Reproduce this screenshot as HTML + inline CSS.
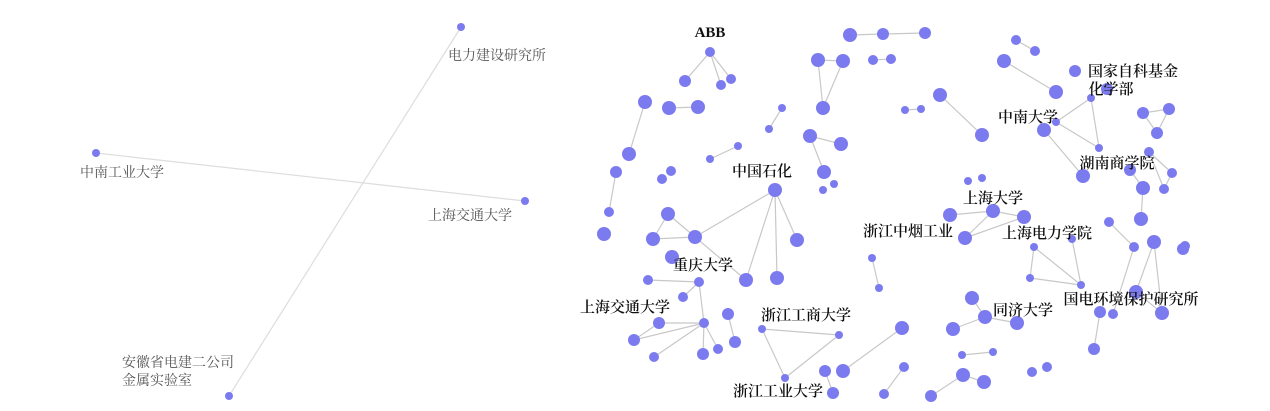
<!DOCTYPE html>
<html><head><meta charset="utf-8"><style>
html,body{margin:0;padding:0;background:#fff;}
svg{display:block}
.e{stroke:#c8c8c8;stroke-width:1.2}
circle{fill:#7b7bef}
.l{font-family:"Liberation Serif","Noto Serif CJK SC",serif;font-size:15px;font-weight:600;fill:#111;text-anchor:middle}
.g{font-family:"Liberation Serif","Noto Serif CJK SC",serif;font-size:14px;fill:#555}
</style></head><body>
<svg width="1270" height="411" viewBox="0 0 1270 411" xmlns="http://www.w3.org/2000/svg">
<line class="e" x1="96" y1="153" x2="525" y2="201" style="stroke:#ddd"/>
<line class="e" x1="461" y1="27" x2="229" y2="396" style="stroke:#ddd"/>
<circle cx="96" cy="153" r="4"/><circle cx="525" cy="201" r="4"/><circle cx="461" cy="27" r="4"/><circle cx="229" cy="396" r="4"/>
<text class="g" x="448" y="60">电力建设研究所</text>
<text class="g" x="80" y="177">中南工业大学</text>
<text class="g" x="428" y="220">上海交通大学</text>
<text class="g" x="122" y="367">安徽省电建二公司</text>
<text class="g" x="122" y="385">金属实验室</text>
<g class="e">
<line x1="710" y1="52" x2="685" y2="81"/><line x1="710" y1="52" x2="721" y2="85"/><line x1="710" y1="52" x2="731" y2="79"/>
<line x1="645" y1="102" x2="629" y2="154"/><line x1="669" y1="108" x2="698" y2="107"/>
<line x1="782" y1="108" x2="769" y2="129"/><line x1="738" y1="146" x2="710" y2="159"/>
<line x1="616" y1="172" x2="609" y2="212"/>
<line x1="850" y1="35" x2="883" y2="34"/><line x1="883" y1="34" x2="925" y2="33"/>
<line x1="818" y1="60" x2="843" y2="61"/><line x1="818" y1="60" x2="823" y2="108"/><line x1="843" y1="61" x2="823" y2="108"/>
<line x1="873" y1="60" x2="891" y2="59"/>
<line x1="810" y1="136" x2="841" y2="144"/><line x1="810" y1="136" x2="824" y2="172"/>
<line x1="775" y1="190" x2="695" y2="237"/><line x1="775" y1="190" x2="746" y2="280"/><line x1="775" y1="190" x2="777" y2="278"/><line x1="775" y1="190" x2="797" y2="240"/>
<line x1="668" y1="214" x2="653" y2="239"/><line x1="668" y1="214" x2="695" y2="237"/><line x1="653" y1="239" x2="695" y2="237"/><line x1="695" y1="237" x2="746" y2="280"/>
<line x1="648" y1="280" x2="699" y2="282"/><line x1="699" y1="282" x2="683" y2="297"/><line x1="699" y1="282" x2="704" y2="323"/>
<line x1="704" y1="323" x2="659" y2="323"/><line x1="704" y1="323" x2="634" y2="340"/><line x1="704" y1="323" x2="654" y2="357"/><line x1="704" y1="323" x2="703" y2="354"/><line x1="704" y1="323" x2="718" y2="349"/><line x1="634" y1="340" x2="659" y2="323"/>
<line x1="728" y1="314" x2="735" y2="342"/>
<line x1="762" y1="329" x2="839" y2="335"/><line x1="839" y1="335" x2="785" y2="378"/><line x1="785" y1="378" x2="762" y2="329"/>
<line x1="843" y1="371" x2="902" y2="328"/><line x1="825" y1="371" x2="833" y2="393"/>
<line x1="904" y1="367" x2="884" y2="394"/><line x1="872" y1="258" x2="879" y2="288"/>
<line x1="1016" y1="40" x2="1035" y2="51"/><line x1="1004" y1="61" x2="1056" y2="92"/>
<line x1="940" y1="95" x2="982" y2="135"/><line x1="905" y1="110" x2="921" y2="109"/>
<line x1="1091" y1="98" x2="1056" y2="122"/><line x1="1091" y1="98" x2="1099" y2="148"/><line x1="1056" y1="122" x2="1099" y2="148"/><line x1="1044" y1="130" x2="1083" y2="176"/>
<line x1="1143" y1="113" x2="1169" y2="109"/><line x1="1169" y1="109" x2="1157" y2="133"/><line x1="1157" y1="133" x2="1143" y2="113"/>
<line x1="1149" y1="152" x2="1172" y2="173"/><line x1="1149" y1="152" x2="1164" y2="189"/><line x1="1172" y1="173" x2="1164" y2="189"/>
<line x1="1130" y1="170" x2="1143" y2="188"/><line x1="1143" y1="188" x2="1141" y2="219"/>
<line x1="950" y1="215" x2="993" y2="211"/><line x1="993" y1="211" x2="1024" y2="217"/><line x1="965" y1="238" x2="993" y2="211"/><line x1="965" y1="238" x2="1024" y2="217"/>
<line x1="1034" y1="247" x2="1030" y2="278"/><line x1="1034" y1="247" x2="1081" y2="285"/><line x1="1030" y1="278" x2="1081" y2="285"/><line x1="1072" y1="239" x2="1081" y2="285"/>
<line x1="1109" y1="222" x2="1134" y2="247"/><line x1="1134" y1="247" x2="1113" y2="314"/>
<line x1="1154" y1="242" x2="1136" y2="292"/><line x1="1154" y1="242" x2="1162" y2="313"/><line x1="1136" y1="292" x2="1162" y2="313"/>
<line x1="1100" y1="312" x2="1094" y2="349"/>
<line x1="972" y1="298" x2="985" y2="317"/><line x1="985" y1="317" x2="953" y2="329"/><line x1="985" y1="317" x2="1017" y2="323"/>
<line x1="962" y1="355" x2="993" y2="352"/><line x1="963" y1="375" x2="984" y2="382"/><line x1="963" y1="375" x2="931" y2="396"/>
</g>
<g>
<circle cx="710" cy="52" r="5"/><circle cx="685" cy="81" r="6"/><circle cx="721" cy="85" r="5"/><circle cx="731" cy="79" r="5"/>
<circle cx="645" cy="102" r="7"/><circle cx="629" cy="154" r="7"/><circle cx="669" cy="108" r="7"/><circle cx="698" cy="107" r="7"/>
<circle cx="782" cy="108" r="4"/><circle cx="769" cy="129" r="4"/><circle cx="738" cy="146" r="4"/><circle cx="710" cy="159" r="4"/>
<circle cx="662" cy="179" r="5"/><circle cx="671" cy="171" r="5"/><circle cx="616" cy="172" r="6"/><circle cx="609" cy="212" r="5"/>
<circle cx="850" cy="35" r="7"/><circle cx="883" cy="34" r="6"/><circle cx="925" cy="33" r="6"/>
<circle cx="818" cy="60" r="7"/><circle cx="843" cy="61" r="7"/><circle cx="823" cy="108" r="7"/>
<circle cx="873" cy="60" r="5"/><circle cx="891" cy="59" r="5"/>
<circle cx="810" cy="136" r="7"/><circle cx="841" cy="144" r="7"/><circle cx="824" cy="172" r="7"/><circle cx="823" cy="190" r="4"/><circle cx="834" cy="184" r="4"/>
<circle cx="775" cy="190" r="7"/><circle cx="695" cy="237" r="7"/><circle cx="746" cy="280" r="7"/><circle cx="777" cy="278" r="7"/><circle cx="797" cy="240" r="7"/>
<circle cx="604" cy="234" r="7"/><circle cx="668" cy="214" r="7"/><circle cx="653" cy="239" r="7"/><circle cx="672" cy="257" r="7"/>
<circle cx="648" cy="280" r="5"/><circle cx="699" cy="282" r="5"/><circle cx="683" cy="297" r="5"/><circle cx="704" cy="323" r="5"/>
<circle cx="659" cy="323" r="6"/><circle cx="634" cy="340" r="6"/><circle cx="654" cy="357" r="5"/><circle cx="703" cy="354" r="6"/><circle cx="718" cy="349" r="5"/>
<circle cx="728" cy="314" r="6"/><circle cx="735" cy="342" r="6"/>
<circle cx="762" cy="329" r="4"/><circle cx="839" cy="335" r="4"/><circle cx="785" cy="378" r="4"/>
<circle cx="825" cy="371" r="6"/><circle cx="843" cy="371" r="7"/><circle cx="902" cy="328" r="7"/><circle cx="833" cy="393" r="6"/>
<circle cx="904" cy="367" r="5"/><circle cx="884" cy="394" r="5"/><circle cx="872" cy="258" r="4"/><circle cx="879" cy="288" r="4"/>
<circle cx="1016" cy="40" r="5"/><circle cx="1035" cy="51" r="5"/><circle cx="1004" cy="61" r="7"/><circle cx="1056" cy="92" r="7"/>
<circle cx="1075" cy="71" r="6"/><circle cx="1107" cy="89" r="6"/><circle cx="1091" cy="98" r="4"/>
<circle cx="940" cy="95" r="7"/><circle cx="982" cy="135" r="7"/><circle cx="905" cy="110" r="4"/><circle cx="921" cy="109" r="4"/>
<circle cx="1056" cy="122" r="4"/><circle cx="1044" cy="130" r="7"/><circle cx="1099" cy="148" r="4"/><circle cx="1083" cy="176" r="7"/>
<circle cx="1143" cy="113" r="6"/><circle cx="1169" cy="109" r="6"/><circle cx="1157" cy="133" r="6"/>
<circle cx="1149" cy="152" r="5"/><circle cx="1130" cy="170" r="6"/><circle cx="1172" cy="173" r="5"/><circle cx="1143" cy="188" r="7"/><circle cx="1164" cy="189" r="5"/><circle cx="1141" cy="219" r="7"/>
<circle cx="968" cy="181" r="4"/><circle cx="982" cy="178" r="4"/>
<circle cx="950" cy="215" r="7"/><circle cx="993" cy="211" r="7"/><circle cx="1024" cy="217" r="7"/><circle cx="965" cy="238" r="7"/>
<circle cx="1072" cy="239" r="4"/><circle cx="1034" cy="247" r="4"/><circle cx="1030" cy="278" r="4"/><circle cx="1081" cy="285" r="4"/>
<circle cx="1109" cy="222" r="5"/><circle cx="1134" cy="247" r="5"/><circle cx="1113" cy="314" r="5"/>
<circle cx="1154" cy="242" r="7"/><circle cx="1136" cy="292" r="7"/><circle cx="1162" cy="313" r="7"/><circle cx="1183" cy="249" r="6"/><circle cx="1185" cy="246" r="5"/>
<circle cx="1100" cy="312" r="6"/><circle cx="1094" cy="349" r="6"/>
<circle cx="972" cy="298" r="7"/><circle cx="985" cy="317" r="7"/><circle cx="953" cy="329" r="7"/><circle cx="1017" cy="323" r="7"/>
<circle cx="962" cy="355" r="4"/><circle cx="993" cy="352" r="4"/><circle cx="963" cy="375" r="7"/><circle cx="984" cy="382" r="7"/><circle cx="931" cy="396" r="6"/>
<circle cx="1032" cy="372" r="5"/><circle cx="1047" cy="367" r="5"/>
</g>
<text class="l" x="710" y="37">ABB</text>
<text class="l" x="762" y="176">中国石化</text>
<text class="l" x="703" y="270">重庆大学</text>
<text class="l" x="625" y="312">上海交通大学</text>
<text class="l" x="806" y="320">浙江工商大学</text>
<text class="l" x="778" y="396">浙江工业大学</text>
<text class="l" x="908" y="236">浙江中烟工业</text>
<text class="l" x="993" y="203">上海大学</text>
<text class="l" x="1047" y="238">上海电力学院</text>
<text class="l" x="1028" y="122">中南大学</text>
<text class="l" x="1133" y="76">国家自科基金</text>
<text class="l" x="1111" y="94">化学部</text>
<text class="l" x="1117" y="168">湖南商学院</text>
<text class="l" x="1131" y="304">国电环境保护研究所</text>
<text class="l" x="1023" y="315">同济大学</text>
</svg>
</body></html>
